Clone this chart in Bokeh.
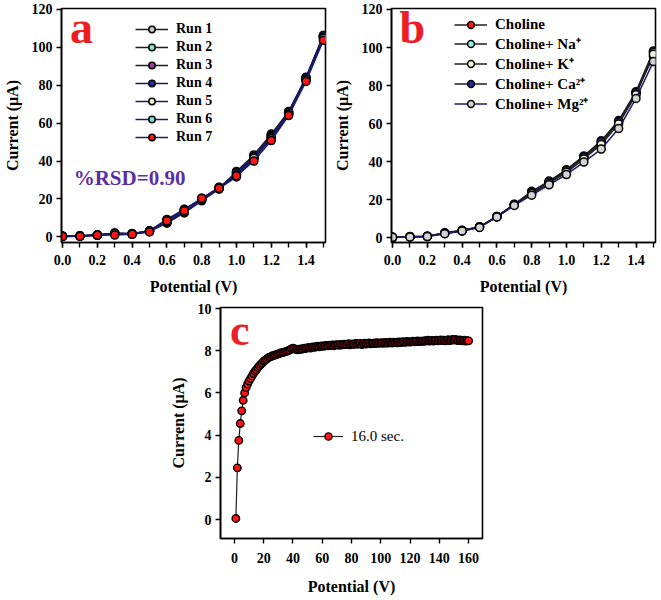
from bokeh.plotting import figure
from bokeh.models import (Range1d, Legend, LegendItem, Label, Spacer, FixedTicker,
                          NumeralTickFormatter)
from bokeh.layouts import column, row
from bokeh.embed import file_html
from bokeh.resources import INLINE

# ---------------- data ----------------
potential = [0.0, 0.1, 0.2, 0.3, 0.4, 0.5, 0.6, 0.7, 0.8, 0.9, 1.0, 1.1, 1.2, 1.3, 1.4, 1.5]

run_labels = ["Run 1", "Run 2", "Run 3", "Run 4", "Run 5", "Run 6", "Run 7"]
run1 = [0.3, 0.4, 0.9, 1.8, 1.4, 2.9, 7.2, 12.6, 19.0, 25.2, 34.5, 43.2, 54.2, 66.2, 84.2, 106.3]
run2 = [0.2, 0.5, 1.0, 1.6, 1.6, 3.1, 8.0, 13.2, 19.4, 25.8, 33.8, 42.6, 53.6, 65.6, 83.8, 106.0]
run3 = [0.3, 0.4, 0.8, 1.9, 1.5, 3.0, 8.8, 14.4, 20.0, 26.0, 33.0, 41.8, 52.8, 65.0, 83.4, 105.6]
run4 = [0.2, 0.3, 0.9, 2.0, 1.7, 3.2, 9.2, 14.6, 20.2, 25.4, 34.0, 42.2, 53.0, 65.8, 84.0, 106.2]
run5 = [0.3, 0.4, 1.0, 1.7, 1.5, 2.8, 7.6, 12.9, 19.6, 25.5, 31.6, 41.2, 52.2, 64.8, 83.0, 105.2]
run6 = [0.2, 0.5, 0.9, 1.8, 1.6, 3.0, 8.2, 13.5, 20.2, 26.2, 32.8, 41.5, 51.8, 64.6, 82.8, 104.8]
run7 = [0.2, 0.3, 0.8, 0.9, 1.3, 2.6, 8.5, 13.8, 20.4, 25.6, 32.2, 40.0, 50.8, 64.0, 82.0, 103.8]
runs = [run1, run2, run3, run4, run5, run6, run7]

ion_labels = ["Choline", "Choline+ Na\u207a", "Choline+ K\u207a", "Choline+ Ca\u00b2\u207a", "Choline+ Mg\u00b2\u207a"]
choline = [0.2, 0.6, 0.8, 2.6, 3.9, 5.8, 11.2, 17.6, 24.4, 29.8, 35.8, 43.0, 51.0, 61.6, 76.8, 98.2]
choline_na = [0.1, 0.5, 0.7, 2.4, 3.7, 5.6, 11.0, 17.4, 23.8, 29.2, 35.2, 42.2, 50.0, 60.8, 76.0, 97.4]
choline_k = [0.2, 0.4, 0.6, 2.2, 3.6, 5.5, 11.1, 17.2, 23.2, 28.6, 34.4, 41.4, 49.0, 59.8, 75.2, 96.4]
choline_ca = [0.1, 0.5, 0.8, 2.5, 3.8, 5.7, 11.2, 17.5, 24.0, 29.5, 35.5, 42.6, 50.4, 61.0, 76.4, 95.4]
choline_mg = [0.2, 0.4, 0.6, 2.1, 3.5, 5.4, 10.9, 17.0, 22.4, 27.8, 33.2, 39.8, 46.6, 57.4, 73.2, 92.6]
ions = [choline, choline_na, choline_k, choline_ca, choline_mg]

c_label = "16.0 sec."
c_x = list(range(1, 161))
c_y = [0.05, 2.45, 3.75, 4.55, 5.15, 5.65, 6.00, 6.25, 6.42, 6.56,
       6.68, 6.80, 6.92, 7.02, 7.10, 7.20, 7.28, 7.35, 7.42, 7.50,
       7.55, 7.60, 7.66, 7.70, 7.72, 7.76, 7.78, 7.80, 7.83, 7.85,
       7.88, 7.90, 7.92, 7.93, 7.96, 7.98, 8.01, 8.04, 8.09, 8.12,
       8.10, 8.06, 8.04, 8.06, 8.08, 8.07, 8.10, 8.12, 8.11, 8.14,
       8.15, 8.13, 8.17, 8.18, 8.16, 8.20, 8.21, 8.19, 8.22, 8.23,
       8.21, 8.24, 8.25, 8.23, 8.26, 8.25, 8.27, 8.24, 8.28, 8.27,
       8.29, 8.26, 8.30, 8.28, 8.31, 8.29, 8.30, 8.33, 8.28, 8.31,
       8.32, 8.30, 8.34, 8.31, 8.33, 8.35, 8.29, 8.33, 8.36, 8.32,
       8.34, 8.37, 8.33, 8.35, 8.36, 8.34, 8.38, 8.35, 8.37, 8.36,
       8.38, 8.35, 8.39, 8.37, 8.36, 8.40, 8.38, 8.37, 8.41, 8.39,
       8.38, 8.42, 8.40, 8.39, 8.43, 8.41, 8.40, 8.44, 8.42, 8.41,
       8.43, 8.45, 8.42, 8.44, 8.46, 8.43, 8.45, 8.44, 8.47, 8.45,
       8.48, 8.50, 8.46, 8.47, 8.49, 8.46, 8.48, 8.50, 8.47, 8.49,
       8.51, 8.48, 8.50, 8.47, 8.49, 8.52, 8.48, 8.50, 8.53, 8.51,
       8.54, 8.50, 8.48, 8.51, 8.49, 8.47, 8.50, 8.46, 8.48, 8.47]

ab_xticks = [0.0, 0.2, 0.4, 0.6, 0.8, 1.0, 1.2, 1.4]
ab_yticks = [0, 20, 40, 60, 80, 100, 120]
c_xticks = [0, 20, 40, 60, 80, 100, 120, 140, 160]
c_yticks = [0, 2, 4, 6, 8, 10]

# ---------------- styles ----------------
SERIF = "Liberation Serif"
run_fill = ["#c8c8c8", "#8ae8da", "#9a3fa0", "#2a2a9a", "#f4f4d2", "#80e6da", "#ff1414"]
run_line = ["#1e1e1e", "#1e1e1e", "#1e1e1e", "#1a1a5e", "#1a1a6e", "#1a1a6e", "#1a1a6e"]
ion_fill = ["#ff1414", "#9af0e8", "#f2f8dc", "#2a2a9a", "#d2d2d2"]
ion_line = ["#1e1e1e", "#1e1e1e", "#1e1e1e", "#1e1e1e", "#1a1a6e"]
PANEL_RED = "#ee1c25"


def style(p, xlabel, ylabel):
    p.toolbar.logo = None
    p.grid.visible = False
    p.outline_line_color = "black"
    p.outline_line_width = 1.6
    p.background_fill_color = "white"
    p.border_fill_color = "white"
    for ax in (p.xaxis[0], p.yaxis[0]):
        ax.axis_line_width = 1.6
        ax.axis_line_color = "black"
        ax.major_tick_line_width = 1.4
        ax.major_tick_out = 5
        ax.major_tick_in = 0
        ax.minor_tick_line_width = 1.4
        ax.minor_tick_out = 5
        ax.minor_tick_in = 0
        ax.major_label_text_font = SERIF
        ax.major_label_text_font_style = "bold"
        ax.major_label_text_font_size = "14px"
        ax.major_label_text_color = "black"
        ax.axis_label_text_font = SERIF
        ax.axis_label_text_font_style = "bold"
        ax.axis_label_text_font_size = "16px"
        ax.axis_label_text_color = "black"
    p.xaxis[0].axis_label = xlabel
    p.yaxis[0].axis_label = ylabel
    p.xaxis[0].major_label_standoff = 7
    p.xaxis[0].axis_label_standoff = 10
    p.yaxis[0].major_label_standoff = 4
    p.yaxis[0].axis_label_standoff = 8
    p.yaxis[0].minor_tick_line_color = None


def legend_for(p, items, loc, font_size, bold, gh, gw=33, spacing=2):
    lg = Legend(items=items, location=loc, orientation="vertical")
    lg.border_line_color = None
    lg.background_fill_alpha = 0
    lg.padding = 0
    lg.margin = 0
    lg.spacing = spacing
    lg.glyph_height = gh
    lg.label_height = gh
    lg.glyph_width = gw
    lg.label_standoff = 8
    lg.label_text_font = SERIF
    lg.label_text_font_style = "bold" if bold else "normal"
    lg.label_text_font_size = font_size
    lg.label_text_color = "black"
    p.add_layout(lg, "center")


# ---------------- panel a ----------------
pa = figure(width=330, height=297, output_backend="svg", toolbar_location=None,
            x_range=Range1d(-0.006, 1.512), y_range=Range1d(-3, 120.5),
            min_border_left=59, min_border_right=5, min_border_top=8, min_border_bottom=55)
style(pa, "Potential (V)", "Current (\u03bcA)")
pa.xaxis[0].ticker = FixedTicker(ticks=ab_xticks, minor_ticks=potential)
pa.xaxis[0].formatter = NumeralTickFormatter(format="0.0")
pa.yaxis[0].ticker = FixedTicker(ticks=ab_yticks)
items_a = []
for lab, ys, fc, lc in zip(run_labels, runs, run_fill, run_line):
    lr = pa.line(potential, ys, line_color=lc, line_width=1.5)
    sr = pa.scatter(potential, ys, marker="circle", size=8, fill_color=fc,
                    line_color="black", line_width=1.5)
    items_a.append(LegendItem(label=lab, renderers=[lr, sr]))
legend_for(pa, items_a, (74, 97), "14px", True, 16)
pa.add_layout(Label(x=0.043, y=110.5, text="a", text_font=SERIF, text_font_style="bold",
                    text_font_size="46px", text_color=PANEL_RED, text_baseline="alphabetic"))
pa.add_layout(Label(x=0.064, y=31.0, text="%RSD=0.90", text_font=SERIF,
                    text_font_style="bold", text_font_size="21px", text_color="#5b2fa3",
                    text_baseline="alphabetic"))

# ---------------- panel b ----------------
pb = figure(width=329, height=297, output_backend="svg", toolbar_location=None,
            x_range=Range1d(-0.006, 1.512), y_range=Range1d(-2.5, 120.5),
            min_border_left=59, min_border_right=4, min_border_top=8, min_border_bottom=55)
style(pb, "Potential (V)", "Current (\u03bcA)")
pb.xaxis[0].ticker = FixedTicker(ticks=ab_xticks, minor_ticks=potential)
pb.xaxis[0].formatter = NumeralTickFormatter(format="0.0")
pb.yaxis[0].ticker = FixedTicker(ticks=ab_yticks)
items_b = []
rend_b = {}
for idx in [0, 1, 3, 2, 4]:
    ys = ions[idx]
    lr = pb.line(potential, ys, line_color=ion_line[idx], line_width=1.5)
    sr = pb.scatter(potential, ys, marker="circle", size=8, fill_color=ion_fill[idx],
                    line_color="black", line_width=1.5)
    rend_b[idx] = [lr, sr]
for idx, lab in enumerate(ion_labels):
    items_b.append(LegendItem(label=lab, renderers=rend_b[idx]))
legend_for(pb, items_b, (63, 129), "15px", True, 17, spacing=0)
pb.add_layout(Label(x=0.040, y=110.5, text="b", text_font=SERIF, text_font_style="bold",
                    text_font_size="46px", text_color=PANEL_RED, text_baseline="alphabetic"))

# ---------------- panel c ----------------
pc = figure(width=326, height=300, output_backend="svg", toolbar_location=None,
            x_range=Range1d(-9.5, 169.5), y_range=Range1d(-0.9, 10.05),
            min_border_left=52, min_border_right=10, min_border_top=10, min_border_bottom=59)
style(pc, "Potential (V)", "Current (\u03bcA)")
pc.xaxis[0].ticker = FixedTicker(ticks=c_xticks)
pc.yaxis[0].ticker = FixedTicker(ticks=c_yticks)
pc.xaxis[0].minor_tick_line_color = None
pc.xaxis[0].major_label_standoff = 9
pc.xaxis[0].axis_label_standoff = 12
lr = pc.line(c_x, c_y, line_color="#1e1e1e", line_width=1.2)
sr = pc.scatter(c_x, c_y, marker="circle", size=7.5, fill_color="#ff1414",
                line_color="black", line_width=1.4)
legend_for(pc, [LegendItem(label=c_label, renderers=[lr, sr])], (93, 93), "15px", False, 18, gw=30)
pc.add_layout(Label(x=-3.0, y=8.95, text="c", text_font=SERIF, text_font_style="bold",
                    text_font_size="44px", text_color=PANEL_RED, text_baseline="alphabetic"))

layout = column(row(pa, pb), row(Spacer(width=166, height=300), pc))
open("out.html", "w").write(file_html(layout, INLINE))
